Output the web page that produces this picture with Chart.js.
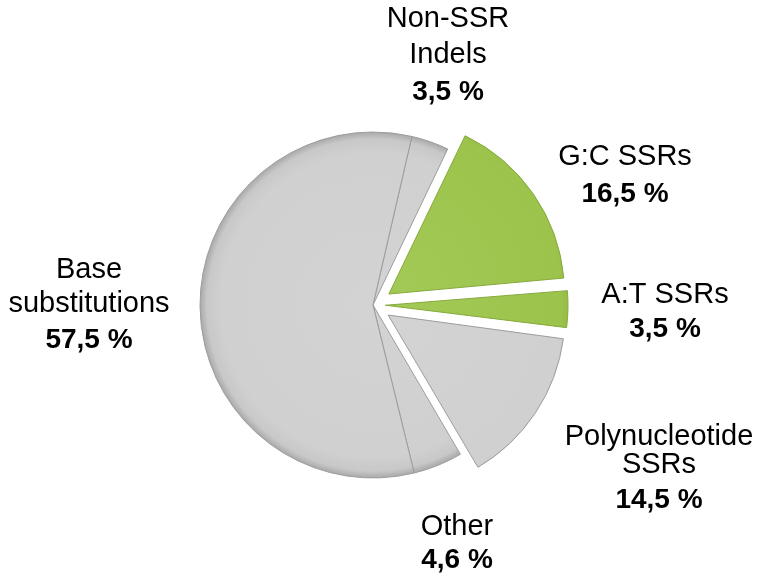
<!DOCTYPE html>
<html>
<head>
<meta charset="utf-8">
<script src="https://cdn.jsdelivr.net/npm/chart.js@4.4.1/dist/chart.umd.min.js"></script>
<style>
  html, body { margin: 0; padding: 0; background: #ffffff; }
  #wrap { width: 760px; height: 581px; }
</style>
</head>
<body>
<div id="wrap"><canvas id="c" width="760" height="581"></canvas></div>
<script>
// ---- data ----
const categories = [['Non-SSR', 'Indels'], ['G:C SSRs'], ['A:T SSRs'], ['Polynucleotide', 'SSRs'], ['Other'], ['Base', 'substitutions']];
const percentages = [3.5, 16.5, 3.5, 14.5, 4.6, 57.5];
const isSSR = [false, true, true, false, false, false];
const exploded = [false, true, true, true, false, false];

// ---- layout / style ----
const ROTATION = 13;
const RADIUS = 173;
const OFFSET = 22;   // wanted pixel shift of exploded slices
const labelLayout = [
  { x: 448, y: [27, 63, 100] },
  { x: 625, y: [165, 202] },
  { x: 665, y: [303, 337] },
  { x: 659, y: [445, 473, 508] },
  { x: 457, y: [535, 568] },
  { x: 89,  y: [278, 312, 348] }
];

const total = percentages.reduce((a, b) => a + b, 0);

function midAngle(i) {
  let before = 0;
  for (let k = 0; k < i; k++) before += percentages[k];
  const deg = ROTATION + (before + percentages[i] / 2) / total * 360;
  return deg * Math.PI / 180;
}

// Chart.js arc translates by offset/4 * (1 + (1 - sin(circumference))); invert it
function arcOffset(i) {
  if (!exploded[i]) return 0;
  const circ = percentages[i] / total * 2 * Math.PI;
  const fix = 1 - Math.sin(Math.min(Math.PI, circ));
  return OFFSET * 4 / (1 + fix);
}

function sliceFill(context) {
  const i = context.dataIndex;
  const green = isSSR[i];
  const chart = context.chart;
  const area = chart.chartArea;
  if (!area) return green ? '#9cc34b' : '#d0d0d0';
  const a = midAngle(i);
  const off = exploded[i] ? OFFSET : 0;
  const cx = (area.left + area.right) / 2 + off * Math.sin(a);
  const cy = (area.top + area.bottom) / 2 - off * Math.cos(a);
  const g = chart.ctx.createRadialGradient(cx, cy, 0, cx, cy, RADIUS);
  if (green) {
    g.addColorStop(0, '#a2c955');
    g.addColorStop(0.88, '#9cc34b');
    g.addColorStop(0.96, '#92b843');
    g.addColorStop(1, '#7c9f33');
  } else {
    g.addColorStop(0, '#d3d3d3');
    g.addColorStop(0.88, '#d0d0d0');
    g.addColorStop(0.96, '#c8c8c8');
    g.addColorStop(1, '#a9a9a9');
  }
  return g;
}

const labelPlugin = {
  id: 'sliceLabels',
  afterDraw(chart) {
    const ctx = chart.ctx;
    ctx.save();
    ctx.fillStyle = '#000000';
    ctx.textAlign = 'center';
    ctx.textBaseline = 'alphabetic';
    categories.forEach((lines, i) => {
      const lay = labelLayout[i];
      lines.forEach((t, j) => {
        ctx.font = '29px "Liberation Sans", Arial, sans-serif';
        ctx.fillText(t, lay.x, lay.y[j]);
      });
      ctx.font = 'bold 28px "Liberation Sans", Arial, sans-serif';
      const txt = percentages[i].toFixed(1).replace('.', ',') + ' %';
      ctx.fillText(txt, lay.x, lay.y[lines.length]);
    });
    ctx.restore();
  }
};

new Chart(document.getElementById('c'), {
  type: 'pie',
  data: {
    labels: categories,
    datasets: [{
      data: percentages,
      backgroundColor: sliceFill,
      borderColor: isSSR.map(s => s ? '#86a93c' : '#9c9c9c'),
      borderWidth: 1,
      offset: percentages.map((p, i) => arcOffset(i))
    }]
  },
  options: {
    responsive: false,
    animation: false,
    rotation: ROTATION,
    radius: RADIUS,
    layout: { padding: { left: 150, right: 164, top: 100, bottom: 71 } },
    plugins: {
      legend: { display: false },
      tooltip: { enabled: false }
    }
  },
  plugins: [labelPlugin]
});
</script>
</body>
</html>
